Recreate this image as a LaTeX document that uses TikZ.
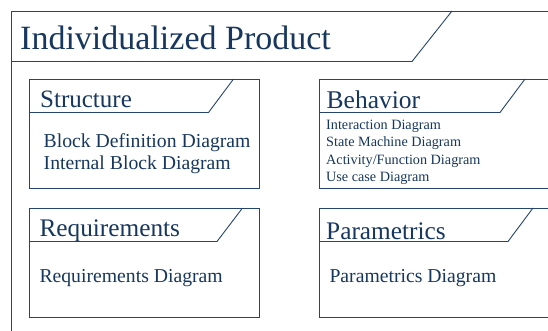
\documentclass[tikz,border=0pt]{standalone}
\usepackage{fontspec}
\setmainfont{Liberation Serif}
\definecolor{navytext}{RGB}{23,55,94}
\definecolor{navyline}{RGB}{38,68,112}
\begin{document}
\begin{tikzpicture}[x=1pt,y=-1pt,
  frameline/.style={draw=navyline,line width=0.9pt},
  tablabel/.style={anchor=base west,inner sep=0pt,text=navytext,font=\fontsize{25}{25}\selectfont},
  itemtext/.style={anchor=base west,inner sep=0pt,text=navytext,font=\fontsize{19.7}{22}\selectfont},
  smalltext/.style={anchor=base west,inner sep=0pt,text=navytext,font=\fontsize{14.2}{17}\selectfont}]
\useasboundingbox (0,0) rectangle (548,330);
\fill[white] (0,0) rectangle (548,330);
\clip (0,0) rectangle (548,330);
% outer frame
\draw[frameline] (11,340) -- (11,11) -- (560,11);
\draw[frameline] (11,61.5) -- (412,61.5) -- (452,11);
\node[anchor=base west,inner sep=0pt,text=navytext,font=\fontsize{34}{34}\selectfont] (title) at (20,49.5) {Individualized Product};
% Structure
\draw[frameline] (29,79) rectangle (259,188);
\draw[frameline] (29,112.5) -- (208.5,112.5) -- (233.5,79);
\node[tablabel] (structure) at (40,107.5) {Structure};
\node[itemtext] (bdd) at (43.5,147) {Block Definition Diagram};
\node[itemtext] (ibd) at (43.5,169) {Internal Block Diagram};
% Behavior
\draw[frameline] (560,79) -- (319,79) -- (319,188) -- (560,188);
\draw[frameline] (319,112.5) -- (500,112.5) -- (525,79);
\node[tablabel,font=\fontsize{25.5}{25}\selectfont] (behavior) at (326.5,108.5) {Behavior};
\node[smalltext] (id) at (326,129.5) {Interaction Diagram};
\node[smalltext] (smd) at (326,146.8) {State Machine Diagram};
\node[smalltext] (afd) at (326,164.6) {Activity/Function Diagram};
\node[smalltext] (ucd) at (326,181.8) {Use case Diagram};
% Requirements
\draw[frameline] (29,208) rectangle (259,317);
\draw[frameline] (29,241.5) -- (217,241.5) -- (242.5,208);
\node[tablabel,font=\fontsize{25.3}{25}\selectfont] (req) at (39.3,236.8) {Requirements};
\node[itemtext] (rd) at (39.3,282) {Requirements Diagram};
% Parametrics
\draw[frameline] (560,208) -- (319,208) -- (319,317) -- (560,317);
\draw[frameline] (319,241.5) -- (508,241.5) -- (533,208);
\node[tablabel,font=\fontsize{25.3}{25}\selectfont] (par) at (326,239.3) {Parametrics};
\node[itemtext] (pd) at (329.3,282) {Parametrics Diagram};
\end{tikzpicture}
\end{document}
